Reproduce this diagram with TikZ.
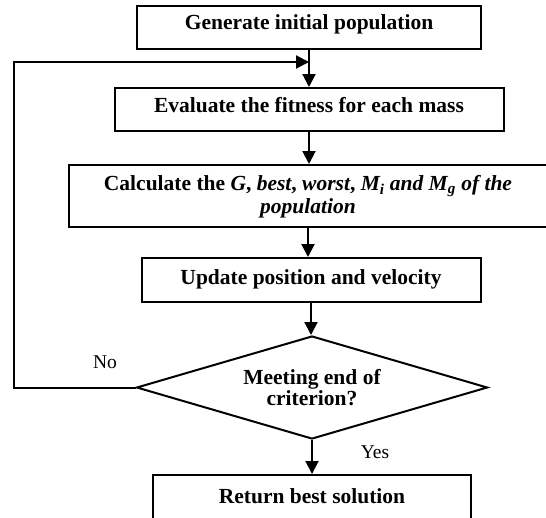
\documentclass[tikz,border=0pt]{standalone}
\usepackage{fontspec}
\setmainfont{Liberation Serif}
\usetikzlibrary{shapes.geometric,arrows.meta}

\begin{document}
\begin{tikzpicture}[x=1pt, y=-1pt, line width=2pt,
  font=\fontsize{19.5}{22}\selectfont,
  box/.style={draw, rectangle, inner sep=0pt, anchor=north, align=center,
    font=\fontsize{21.5}{21}\selectfont\bfseries, text height=23pt, text depth=20pt},
  decision/.style={draw, diamond, aspect=3.4, inner sep=0pt, align=center,
    minimum width=351pt, minimum height=103pt, font=\fontsize{21.5}{21}\selectfont\bfseries},
  arr/.style={-{Triangle[width=13pt,length=13pt]}}]
\useasboundingbox (0, 0) rectangle (546, 517);
\node [box, minimum width=344pt] (init) at (309, 5) {Generate initial population};
\node [box, minimum width=389pt, text height=24.5pt, text depth=18.5pt] (fit) at (309, 87) {Evaluate the fitness for each mass};
\node [box, minimum width=478pt, text height=48pt, text depth=14pt] (calc) at (308, 164)
  {Calculate the \textit{G}, \textit{best}, \textit{worst}, \textit{M\textsubscript{i} and M\textsubscript{g} of the}\\ \textit{population}};
\node [box, minimum width=339pt, text height=26pt, text depth=18pt] (upd) at (311, 257) {Update position and velocity};
\node [decision] (crit) at (312, 387.5) {Meeting end of\\criterion?};
\node [box, minimum width=318pt, text height=28pt, text depth=17pt] (ret) at (312, 474) {Return best solution};
\node (no) at (105, 362) {No};
\node (yes) at (375, 452) {Yes};
\coordinate (back) at (14, 62);
\draw [arr] (init.south -| fit) -- (fit.north);
\draw [arr] (fit) -- (fit |- calc.north);
\draw [arr] (calc) -- (calc |- upd.north);
\draw [arr] (upd) -- (upd |- crit.north);
\draw [arr] (crit.south) -- (crit.south |- ret.north);
\draw [arr] (crit.west) -| (back) -- (fit |- back);
\end{tikzpicture}
\end{document}
